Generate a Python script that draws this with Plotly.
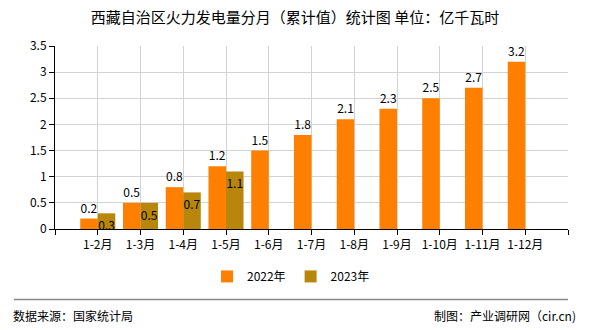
import plotly.graph_objects as go

categories = ["1-2月", "1-3月", "1-4月", "1-5月", "1-6月", "1-7月", "1-8月", "1-9月", "1-10月", "1-11月", "1-12月"]
values_2022 = [0.2, 0.5, 0.8, 1.2, 1.5, 1.8, 2.1, 2.3, 2.5, 2.7, 3.2]
values_2023 = [0.3, 0.5, 0.7, 1.1]
y_ticks = [0, 0.5, 1, 1.5, 2, 2.5, 3, 3.5]
y_tick_labels = ["0", "0.5", "1", "1.5", "2", "2.5", "3", "3.5"]

FONT = "SimSun, Noto Sans CJK SC, sans-serif"
x_idx = list(range(len(categories)))

fig = go.Figure()
fig.add_trace(go.Bar(
    x=x_idx, y=values_2022, name="2022年",
    marker=dict(color="#FF8000", line=dict(width=0)),
    width=0.41, offset=-0.41,
    text=[f"{v:g}" for v in values_2022], textposition="outside",
    textfont=dict(size=12, color="#000", family=FONT), cliponaxis=False,
))
fig.add_trace(go.Bar(
    x=x_idx[:len(values_2023)], y=values_2023, name="2023年",
    marker=dict(color="#B8860B", line=dict(width=0)),
    width=0.41, offset=0,
    text=[f"{v:g}" for v in values_2023], textposition="inside", insidetextanchor="end",
    textangle=0,
    textfont=dict(size=12, color="#000", family=FONT), constraintext="none",
))

fig.update_layout(
    width=590, height=330,
    margin=dict(l=55, r=22, t=46, b=101),
    paper_bgcolor="white", plot_bgcolor="white",
    font=dict(family=FONT, size=12, color="#000"),
    barmode="overlay",
    title=dict(text="西藏自治区火力发电量分月（累计值）统计图 单位：亿千瓦时",
               x=0.5, xanchor="center", y=0.945, yanchor="middle",
               font=dict(size=15, color="#000", family=FONT)),
    xaxis=dict(range=[-1, 11], tickmode="array",
               tickvals=[-1] + x_idx + [11],
               ticktext=[""] + categories + [""],
               showgrid=True, gridcolor="#d3d3d3", gridwidth=1,
               showline=True, linecolor="#000", linewidth=1,
               ticks="outside", ticklen=5, tickcolor="#000",
               zeroline=False, tickfont=dict(size=12)),
    yaxis=dict(range=[0, 3.5], tickmode="array", tickvals=y_ticks, ticktext=y_tick_labels,
               showgrid=True, gridcolor="#d3d3d3", gridwidth=1,
               showline=True, linecolor="#000", linewidth=1,
               ticks="outside", ticklen=5, tickcolor="#000",
               zeroline=False, tickfont=dict(size=12)),
    legend=dict(orientation="h", x=0.46, xanchor="center", y=-0.18, yanchor="top",
                font=dict(size=12), itemwidth=30),
    showlegend=True,
)

fig.add_shape(type="line", xref="paper", yref="paper", x0=-0.08, x1=1.0, y0=-0.385, y1=-0.385,
              line=dict(color="#888", width=1.5))
fig.add_annotation(text="数据来源：国家统计局", xref="paper", yref="paper", x=-0.085, y=-0.47,
                   xanchor="left", yanchor="middle", showarrow=False, font=dict(size=12, family=FONT))
fig.add_annotation(text="制图：产业调研网（cir.cn)", xref="paper", yref="paper", x=1.02, y=-0.47,
                   xanchor="right", yanchor="middle", showarrow=False, font=dict(size=12, family=FONT))

fig.write_html("out.html")
